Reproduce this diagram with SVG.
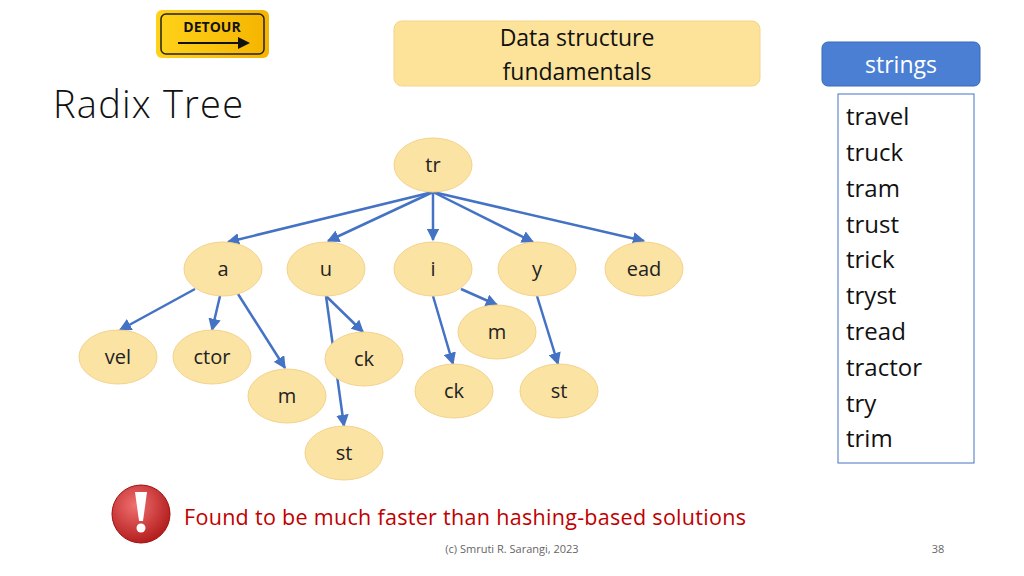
<svg xmlns="http://www.w3.org/2000/svg" width="1024" height="576" viewBox="0 0 1024 576">
<defs>
<marker id="ah" viewBox="0 0 10 10" refX="9" refY="5" markerWidth="5" markerHeight="5" orient="auto"><path d="M0,0 L10,5 L0,10 z" fill="#4472c4"/></marker>
<radialGradient id="rg" cx="0.4" cy="0.35" r="0.7"><stop offset="0" stop-color="#f07070"/><stop offset="1" stop-color="#b01818"/></radialGradient>
<linearGradient id="yg" x1="0" x2="1"><stop offset="0" stop-color="#ffd21a"/><stop offset="1" stop-color="#f5b400"/></linearGradient>
</defs>
<style>
text{font-family:"Open Sans",Lato,"Liberation Sans",sans-serif}
.n ellipse{fill:#fbe3a4;stroke:#f4d28a;stroke-width:1}
.n text{font-size:20px;fill:#222;text-anchor:middle}
.e line{stroke:#4472c4;stroke-width:2.5;marker-end:url(#ah)}
.s{font-size:24px;fill:#111}
</style>
<rect width="1024" height="576" fill="#fff"/>
<g id="detour"><rect x="156" y="10" width="113" height="48" rx="6" fill="url(#yg)"/><rect x="161" y="14" width="103" height="40" rx="5" fill="none" stroke="#222" stroke-width="1.5"/>
<text x="212" y="32" font-size="14" font-weight="bold" text-anchor="middle" fill="#111">DETOUR</text>
<path d="M178,42 H238 V37 L250,43 L238,49 V44 H178 z" fill="#111"/></g>
<text x="53" y="118" font-size="38" font-weight="300" fill="#111" textLength="190">Radix Tree</text>
<g id="title"><rect x="394" y="21" width="366" height="65" rx="8" fill="#fde39a" stroke="#f5d488"/>
<text x="577" y="46" font-size="23" text-anchor="middle" fill="#111">Data structure</text>
<text x="577" y="80" font-size="23" text-anchor="middle" fill="#111">fundamentals</text></g>
<g id="strings"><rect x="822" y="42" width="158" height="44" rx="6" fill="#4a7fd4" stroke="#3a68b5"/>
<text x="901" y="73" font-size="23" text-anchor="middle" fill="#fff">strings</text></g>
<g id="list"><rect x="838" y="94" width="136" height="369" fill="#fff" stroke="#4472c4"/>
<text x="846" y="125" class="s">travel</text><text x="846" y="161" class="s">truck</text><text x="846" y="197" class="s">tram</text><text x="846" y="233" class="s">trust</text><text x="846" y="268" class="s">trick</text><text x="846" y="304" class="s">tryst</text><text x="846" y="340" class="s">tread</text><text x="846" y="376" class="s">tractor</text><text x="846" y="412" class="s">try</text><text x="846" y="447" class="s">trim</text></g>
<g id="connectors" class="e">
<line x1="433" y1="192" x2="228" y2="242"/><line x1="433" y1="192" x2="328" y2="241"/><line x1="433" y1="192" x2="433" y2="240"/><line x1="433" y1="192" x2="533" y2="242"/><line x1="433" y1="192" x2="644" y2="241"/>
<line x1="195" y1="289" x2="120" y2="330"/><line x1="220" y1="296" x2="212" y2="330"/><line x1="238" y1="294" x2="285" y2="368"/>
<line x1="326" y1="296" x2="344" y2="426"/><line x1="326" y1="296" x2="363" y2="332"/>
<line x1="461" y1="289" x2="497" y2="305"/><line x1="433" y1="296" x2="453" y2="364"/><line x1="537" y1="296" x2="558" y2="364"/>
</g>
<g id="n-tr" class="n"><ellipse cx="433" cy="165" rx="39" ry="27"/><text x="433" y="172">tr</text></g>
<g id="n-a" class="n"><ellipse cx="223" cy="269" rx="39" ry="27"/><text x="223" y="276">a</text></g>
<g id="n-u" class="n"><ellipse cx="326" cy="269" rx="39" ry="27"/><text x="326" y="276">u</text></g>
<g id="n-i" class="n"><ellipse cx="433" cy="269" rx="39" ry="27"/><text x="433" y="276">i</text></g>
<g id="n-y" class="n"><ellipse cx="537" cy="269" rx="39" ry="27"/><text x="537" y="276">y</text></g>
<g id="n-ead" class="n"><ellipse cx="644" cy="269" rx="39" ry="27"/><text x="644" y="276">ead</text></g>
<g id="n-im" class="n"><ellipse cx="497" cy="332" rx="39" ry="27"/><text x="497" y="339">m</text></g>
<g id="n-vel" class="n"><ellipse cx="118" cy="357" rx="39" ry="27"/><text x="118" y="364">vel</text></g>
<g id="n-ctor" class="n"><ellipse cx="212" cy="357" rx="39" ry="27"/><text x="212" y="364">ctor</text></g>
<g id="n-uck" class="n"><ellipse cx="364" cy="359" rx="39" ry="27"/><text x="364" y="366">ck</text></g>
<g id="n-am" class="n"><ellipse cx="287" cy="396" rx="39" ry="27"/><text x="287" y="403">m</text></g>
<g id="n-ick" class="n"><ellipse cx="454" cy="391" rx="39" ry="27"/><text x="454" y="398">ck</text></g>
<g id="n-yst" class="n"><ellipse cx="559" cy="391" rx="39" ry="27"/><text x="559" y="398">st</text></g>
<g id="n-ust" class="n"><ellipse cx="344" cy="453" rx="39" ry="27"/><text x="344" y="460">st</text></g>
<g id="warn"><circle cx="141" cy="514" r="29" fill="url(#rg)" stroke="#a01010"/>
<path d="M135,492 H147 L143,521 H139 z" fill="#fff"/><circle cx="141" cy="528" r="4.5" fill="#fff"/></g>
<text x="184" y="525" font-size="21.5" fill="#c00000" textLength="562">Found to be much faster than hashing-based solutions</text>
<text x="512" y="553" font-size="11" fill="#666" text-anchor="middle">(c) Smruti R. Sarangi, 2023</text>
<text x="938" y="553" font-size="11" fill="#666" text-anchor="middle">38</text>
</svg>
